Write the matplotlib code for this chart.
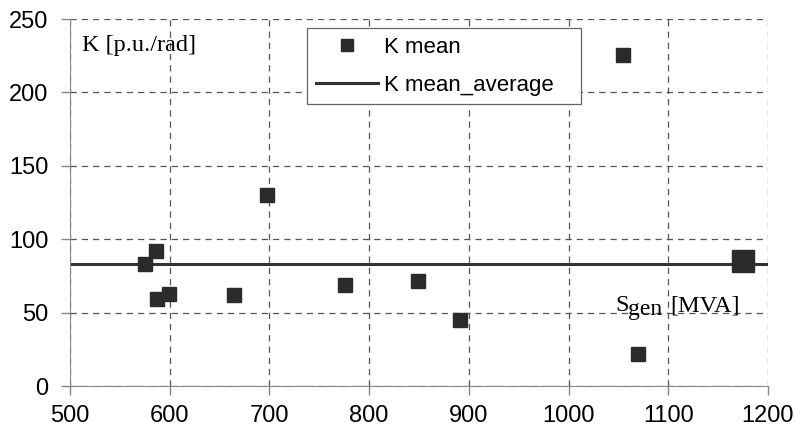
import matplotlib
matplotlib.use("Agg")
import matplotlib.pyplot as plt
from matplotlib.lines import Line2D

# generator rating vs. synchronising coefficient
s_gen = [575, 586, 587, 599, 664, 698, 776, 849, 891, 1055, 1070]
k_mean = [83, 92, 59, 63, 62, 130, 69, 71.5, 45, 225.5, 22]
s_big = [1175]
k_big = [85]
k_avg = 83

xticks = [500, 600, 700, 800, 900, 1000, 1100, 1200]
yticks = [0, 50, 100, 150, 200, 250]

plt.rcParams["font.family"] = "Liberation Sans"
mark = "#2b2b2b"
serif = "Liberation Serif"

fig = plt.figure(figsize=(7.97, 4.37), dpi=100)
ax = fig.add_axes([0.0878, 0.1167, 0.8758, 0.8398])

ax.plot(s_gen, k_mean, "s", ms=10, color=mark, zorder=3)
ax.plot(s_big, k_big, "s", ms=16, color=mark, zorder=3)
ax.axhline(k_avg, color="#333333", lw=2.2, zorder=2)

ax.set_xlim(500, 1200)
ax.set_ylim(0, 250)
ax.set_xticks(xticks)
ax.set_yticks(yticks)
ax.tick_params(labelsize=17, length=6.5, color="#888888", width=1)
ax.tick_params(axis="x", pad=7)
ax.tick_params(axis="y", pad=9)
ax.grid(True, ls=(0, (5, 4)), color="#555555", lw=0.9)
for side in ["top", "right"]:
    ax.spines[side].set_visible(False)
for side in ["left", "bottom"]:
    ax.spines[side].set_color("#888888")

ax.text(512, 232, "K [p.u./rad]", family=serif, fontsize=17.5, va="center")

# x axis label, subscript nearly full size
lx, ly = 1046.5, 51
ax.text(lx, ly, "S", family=serif, fontsize=17.5, va="baseline")
ax.annotate("gen", (lx, ly), xytext=(9.5, -3), textcoords="offset points",
            family=serif, fontsize=17, va="baseline")
ax.annotate("[MVA]", (lx, ly), xytext=(39.5, 0), textcoords="offset points",
            family=serif, fontsize=17.5, va="baseline")

handles = [
    Line2D([], [], ls="none", marker="s", ms=9, color=mark),
    Line2D([], [], color="#333333", lw=2.2),
]
leg = ax.legend(handles, ["K mean", "K mean_average   "], loc="upper left",
                bbox_to_anchor=(0.3395, 0.9755), borderaxespad=0,
                fontsize=16, fancybox=False, edgecolor="#666666",
                framealpha=1, handlelength=2.8, handletextpad=0.27,
                borderpad=0.4, labelspacing=0.75)
leg.get_frame().set_linewidth(0.9)

fig.savefig("out.png", dpi=100)
